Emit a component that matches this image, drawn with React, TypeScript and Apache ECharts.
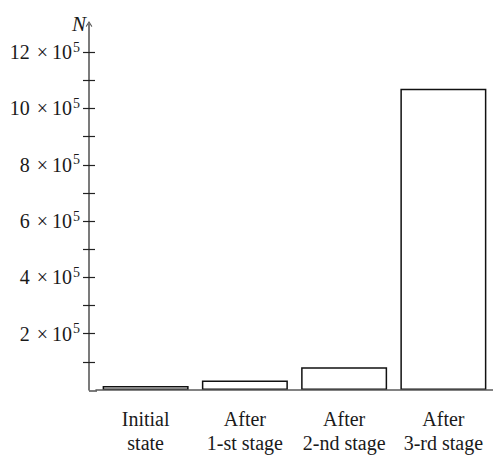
import React, { useEffect, useRef } from "react";
import * as echarts from "echarts";

const categories = ["Initial\nstate", "After\n1-st stage", "After\n2-nd stage", "After\n3-rd stage"];
const values = [14000, 34000, 81000, 1070000];
const tickValues = [1, 2, 3, 4, 5, 6, 7, 8, 9, 10, 11, 12].map((k) => k * 1e5);
const labelValues = [2, 4, 6, 8, 10, 12].map((k) => k * 1e5);
const yMax = 13e5;

const FONT = "Liberation Serif";
const GRID_LEFT = 96;
const AXIS_OFFSET = 7;
const GRID_TOP = 24;
const GRID_BOTTOM = 64;
const W = 493;
const H = 455;

export default function App() {
  const ref = useRef<HTMLDivElement>(null);
  useEffect(() => {
    if (!ref.current) return;
    const chart = echarts.init(ref.current, null, { renderer: "svg" });
    const axisColor = "#5a5a5a";
    const tickStyle = { color: "#222", width: 1.2 };
    const arrow = "path://M5,0 L10,8 L8.8,9 L5,3 L1.2,9 L0,8 Z";
    chart.setOption({
      animation: false,
      backgroundColor: "#ffffff",
      textStyle: { fontFamily: FONT },
      grid: { left: GRID_LEFT, right: 0, top: GRID_TOP, bottom: GRID_BOTTOM, containLabel: false },
      xAxis: {
        type: "category",
        data: categories,
        z: 5,
        axisLine: { show: true, lineStyle: { color: axisColor, width: 1.6 } },
        axisTick: { show: false },
        axisLabel: {
          interval: 0,
          margin: 17,
          fontFamily: FONT,
          fontSize: 20,
          lineHeight: 24,
          color: "#1a1a1a",
        },
      },
      yAxis: [
        {
          type: "value",
          min: 0,
          max: yMax,
          interval: 1e5,
          offset: AXIS_OFFSET,
          position: "left",
          name: "N",
          nameLocation: "end",
          nameGap: 0,
          nameTextStyle: {
            fontFamily: FONT,
            fontStyle: "italic",
            fontSize: 21,
            color: "#1a1a1a",
            align: "right",
            verticalAlign: "middle",
            padding: [0, 3, 0, 0],
          },
          splitLine: { show: false },
          axisLine: {
            show: true,
            symbol: ["none", arrow],
            symbolSize: [9, 6],
            lineStyle: { color: axisColor, width: 1.6 },
          },
          axisTick: { show: true, inside: false, length: 6, customValues: tickValues, lineStyle: tickStyle },
          axisLabel: {
            show: true,
            margin: 9,
            customValues: labelValues,
            color: "#1a1a1a",
            fontFamily: FONT,
            fontSize: 20,
            formatter: (v: number) => `{m|${Math.round(v / 1e5)}}{op|×}{m|10}{s|5}`,
            rich: {
              m: { fontFamily: FONT, fontSize: 20, color: "#1a1a1a" },
              op: { fontFamily: FONT, fontSize: 20, color: "#1a1a1a", padding: [0, 4, 0, 7] },
              s: { fontFamily: FONT, fontSize: 14, color: "#1a1a1a", padding: [0, 0, 10, 1] },
            },
          },
        },
        {
          type: "value",
          min: 0,
          max: yMax,
          interval: 1e5,
          offset: AXIS_OFFSET,
          position: "left",
          splitLine: { show: false },
          axisLine: { show: false },
          axisTick: { show: true, inside: true, length: 6, customValues: tickValues, lineStyle: tickStyle },
          axisLabel: { show: false },
        },
      ],
      graphic: [
        {
          type: "line",
          z: 10,
          shape: { x1: GRID_LEFT - AXIS_OFFSET, y1: H - GRID_BOTTOM, x2: GRID_LEFT + 1, y2: H - GRID_BOTTOM },
          style: { stroke: axisColor, lineWidth: 1.6 },
        },
      ],
      series: [
        {
          type: "bar",
          data: values,
          yAxisIndex: 0,
          barWidth: 86,
          itemStyle: { color: "#ffffff", borderColor: "#111", borderWidth: 1.5 },
        },
      ],
    });
    return () => chart.dispose();
  }, []);
  return (
    <div
      ref={ref}
      style={{ position: "fixed", left: 0, top: 0, width: W, height: H, background: "#fff" }}
    />
  );
}
